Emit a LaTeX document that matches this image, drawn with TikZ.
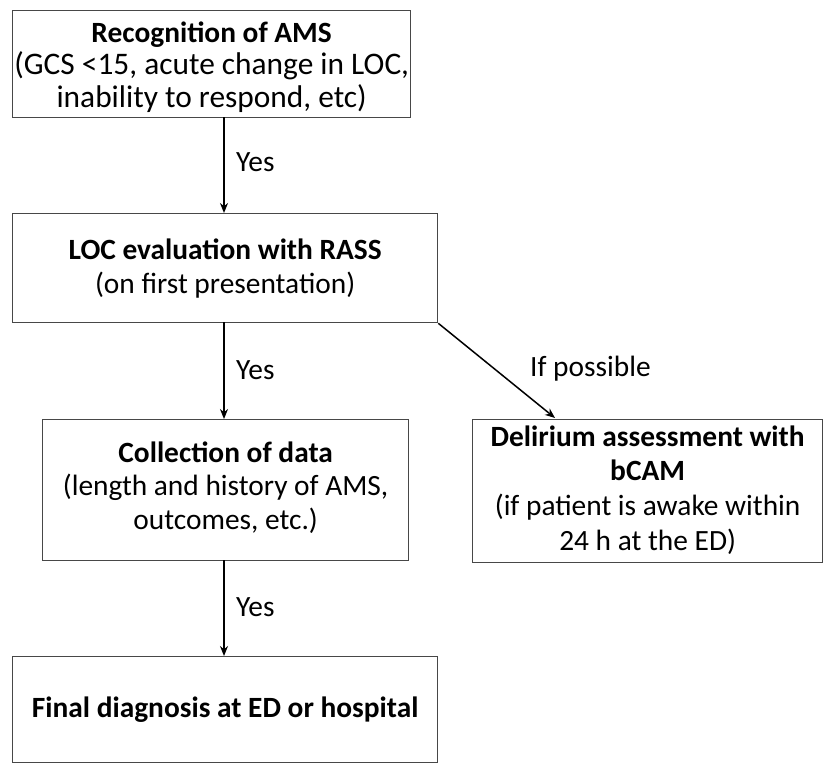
\documentclass[tikz,border=0pt]{standalone}
\usepackage{fontspec}
\setmainfont{Carlito}
\usetikzlibrary{arrows.meta}
\newcommand{\fsA}{\fontsize{29.5}{34}\selectfont}
\newcommand{\fsB}{\fontsize{31.5}{33}\selectfont}
\newcommand{\fsC}{\fontsize{29.5}{35}\selectfont}
\tikzset{
  boxnode/.style={draw=black!72, line width=1.3bp, inner sep=0pt, anchor=north west},
  txt/.style={align=center, font=\fsA, inner sep=0pt},
  flow/.style={line width=2bp, -{Stealth[length=10bp,width=8bp]}},
  lbl/.style={font=\fsA, inner sep=0pt}
}
\begin{document}
\begin{tikzpicture}[x=1bp,y=-1bp]
\useasboundingbox (0,0) rectangle (828,764);
\fill[white] (0,0) rectangle (828,764);
% boxes
\node[boxnode, minimum width=398bp, minimum height=107bp] (b1) at (12,10) {};
\node[boxnode, minimum width=425bp, minimum height=109bp] (b2) at (12,213) {};
\node[boxnode, minimum width=366bp, minimum height=141bp] (b3) at (42,419) {};
\node[boxnode, minimum width=350bp, minimum height=143bp] (b4) at (472,419) {};
\node[boxnode, minimum width=425bp, minimum height=106bp] (b5) at (12,656) {};
% texts
\node[txt, font=\fsB] (t1) at ([yshift=-3bp]b1.center) {{\fsA\textbf{Recognition of AMS}}\\(GCS <15, acute change in LOC,\\inability to respond, etc)};
\node[txt] (t2) at ([yshift=0bp]b2.center) {\textbf{LOC evaluation with RASS}\\(on first presentation)};
\node[txt] (t3) at ([yshift=2.5bp]b3.center) {\textbf{Collection of data}\\(length and history of AMS,\\outcomes, etc.)};
\node[txt, font=\fsC] (t4) at ([yshift=1bp]b4.center) {\textbf{Delirium assessment with}\\\textbf{bCAM}\\(if patient is awake within\\24 h at the ED)};
\node[txt] (t5) at (b5.center) {\textbf{Final diagnosis at ED or hospital}};
% connectors
\coordinate (a1s) at (224,117);
\coordinate (a1e) at (224,213);
\coordinate (a2s) at (224,322);
\coordinate (a2e) at (224,419);
\coordinate (a3s) at (224,560);
\coordinate (a3e) at (224,656);
\coordinate (d1e) at (555,418);
\draw[flow] (a1s) -- (a1e);
\draw[flow] (a2s) -- (a2e);
\draw[flow] (a3s) -- (a3e);
\draw[line width=1.5bp, -{Stealth[length=10bp,width=8bp]}] (b2.south east) -- (d1e);
% labels
\node[lbl, anchor=west] (y1) at (236,162) {Yes};
\node[lbl, anchor=west] (y2) at (236,370) {Yes};
\node[lbl, anchor=west] (y3) at (236,607) {Yes};
\node[lbl, anchor=west] (ip) at (530,369) {If possible};
\end{tikzpicture}
\end{document}
